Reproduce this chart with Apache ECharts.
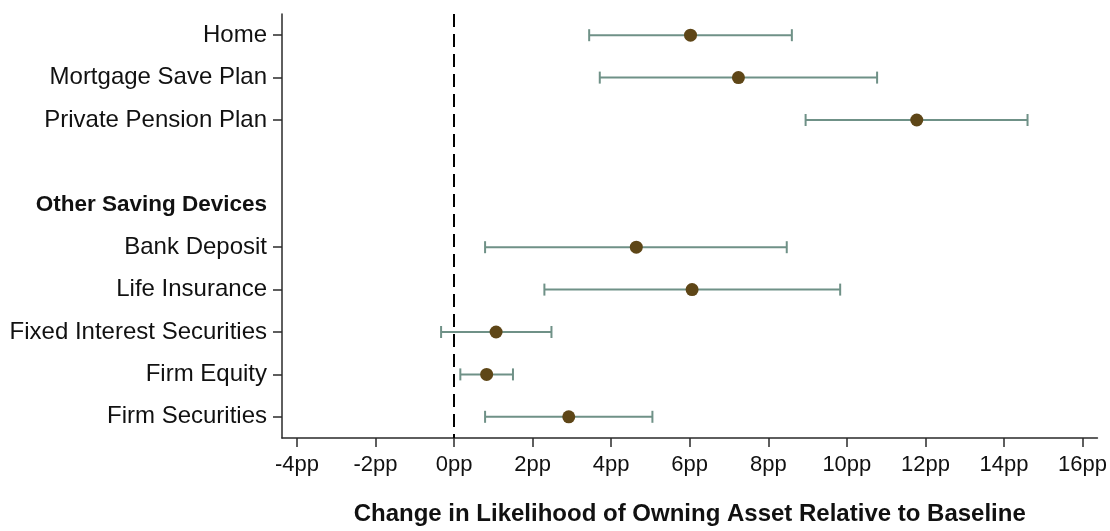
<!DOCTYPE html>
<html>
<head>
<meta charset="utf-8">
<script src="https://cdn.jsdelivr.net/npm/echarts@6/dist/echarts.min.js"></script>
<style>
  html, body { margin: 0; padding: 0; background: #fff; }
  #chart { width: 1110px; height: 531px; }
</style>
</head>
<body>
<div id="chart"></div>
<script>
// Rows, top to bottom. Empty string = spacer row; header row is drawn bold without a tick.
const categories = [
  'Home', 'Mortgage Save Plan', 'Private Pension Plan', '',
  'Other Saving Devices',
  'Bank Deposit', 'Life Insurance', 'Fixed Interest Securities', 'Firm Equity', 'Firm Securities'
];
const headerRows = ['Other Saving Devices'];

// Point estimates and 95% confidence bounds (percentage points)
const estimate = [6.02, 7.24, 11.78, null, null, 4.64, 6.06, 1.07, 0.83, 2.92];
const lower    = [3.44, 3.71, 8.95, null, null, 0.79, 2.30, -0.33, 0.16, 0.79];
const upper    = [8.60, 10.77, 14.60, null, null, 8.47, 9.83, 2.48, 1.50, 5.05];

const xTicks = [-4, -2, 0, 2, 4, 6, 8, 10, 12, 14, 16];
const xTitle = 'Change in Likelihood of Owning Asset Relative to Baseline';

const FONT = '"Liberation Sans", Arial, Helvetica, sans-serif';
const pointColor = '#5e4617';
const ciColor = '#6f9187';
const axisColor = '#2a2a2a';

const pointData = [];
const ciData = [];
categories.forEach((c, i) => {
  if (estimate[i] != null) {
    pointData.push([estimate[i], c]);
    ciData.push([lower[i], upper[i], c]);
  }
});

const chart = echarts.init(document.getElementById('chart'), null, { renderer: 'canvas' });

chart.setOption({
  animation: false,
  backgroundColor: '#fff',
  grid: { left: 282, right: 12, top: 14, bottom: 88, containLabel: false },
  xAxis: {
    type: 'value',
    min: -4.38,
    max: 16.38,
    splitLine: { show: false },
    axisLine: { show: true, onZero: false, lineStyle: { color: axisColor, width: 1.5 } },
    axisTick: { show: true, length: 9, customValues: xTicks, lineStyle: { color: axisColor, width: 1.5 } },
    axisLabel: {
      customValues: xTicks,
      margin: 16,
      color: '#111',
      fontFamily: FONT,
      fontSize: 22,
      formatter: v => v + 'pp'
    },
    name: xTitle,
    nameLocation: 'middle',
    nameGap: 64,
    nameTextStyle: { fontFamily: FONT, fontSize: 24, fontWeight: 'bold', color: '#111' }
  },
  yAxis: {
    type: 'category',
    inverse: true,
    data: categories,
    boundaryGap: true,
    splitLine: { show: false },
    axisLine: { show: true, onZero: false, lineStyle: { color: axisColor, width: 1.5 } },
    axisTick: {
      show: true,
      length: 9,
      alignWithLabel: true,
      interval: (idx, val) => val !== '' && headerRows.indexOf(val) < 0,
      lineStyle: { color: axisColor, width: 1.5 }
    },
    axisLabel: {
      interval: 0,
      margin: 15,
      color: '#111',
      fontFamily: FONT,
      fontSize: 24,
      formatter: v => headerRows.indexOf(v) >= 0 ? '{h|' + v + '}' : v,
      rich: { h: { fontFamily: FONT, fontSize: 22.5, fontWeight: 'bold', color: '#111' } }
    }
  },
  series: [
    {
      type: 'custom',
      name: 'ci',
      data: ciData,
      encode: { x: [0, 1], y: 2 },
      z: 2,
      renderItem: (params, api) => {
        const y = api.value(2);
        const p0 = api.coord([api.value(0), y]);
        const p1 = api.coord([api.value(1), y]);
        const cap = 6;
        const style = { stroke: ciColor, lineWidth: 2, fill: null };
        return {
          type: 'group',
          children: [
            { type: 'line', shape: { x1: p0[0], y1: p0[1], x2: p1[0], y2: p1[1] }, style },
            { type: 'line', shape: { x1: p0[0], y1: p0[1] - cap, x2: p0[0], y2: p0[1] + cap }, style },
            { type: 'line', shape: { x1: p1[0], y1: p1[1] - cap, x2: p1[0], y2: p1[1] + cap }, style }
          ]
        };
      }
    },
    {
      type: 'scatter',
      name: 'estimate',
      data: pointData,
      symbol: 'circle',
      symbolSize: 13,
      z: 3,
      itemStyle: { color: pointColor, opacity: 1 },
      markLine: {
        silent: true,
        symbol: ['none', 'none'],
        label: { show: false },
        lineStyle: { color: '#000', width: 2, type: [13, 7] },
        data: [{ xAxis: 0 }]
      }
    }
  ]
});
</script>
</body>
</html>
